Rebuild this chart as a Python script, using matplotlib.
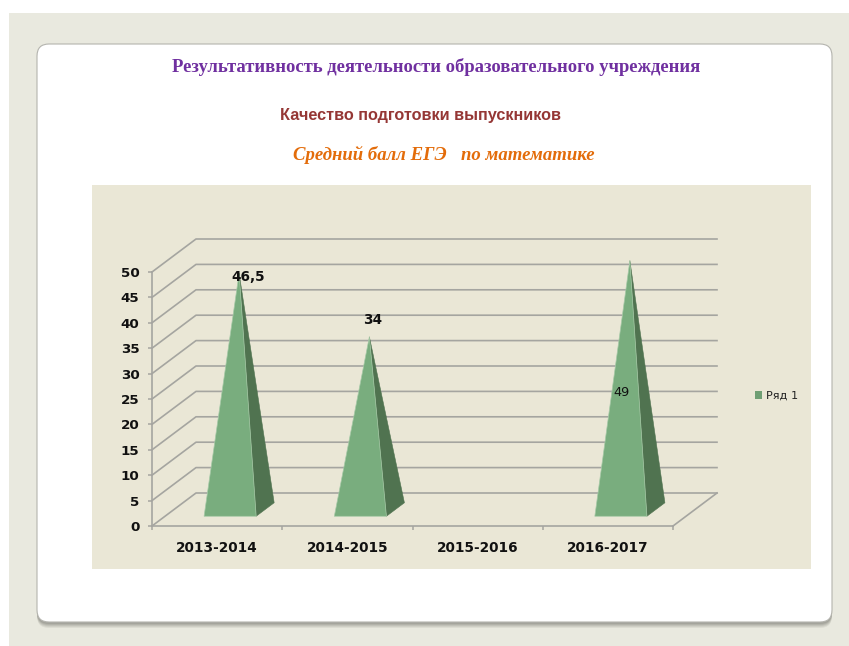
import matplotlib

matplotlib.use("Agg")
import matplotlib.pyplot as plt
from matplotlib.patches import FancyBboxPatch, Polygon, Rectangle

categories = ["2013-2014", "2014-2015", "2015-2016", "2016-2017"]
values = [46.5, 34, None, 49]
y_ticks = [0, 5, 10, 15, 20, 25, 30, 35, 40, 45, 50]
series_name = "Ряд 1"

W, H = 849, 646
GRID = "#a5a5a0"
FACE = "#79ad7e"
SIDE = "#507350"
INK = "#111111"

# plot box in pixels, front plane of the fake 3D chart
LEFT, RIGHT, BOTTOM, TOP = 152, 673, 526, 272
DEPTH_X = 44 / ((RIGHT - LEFT) / 4)
DEPTH_Y = 33 / ((BOTTOM - TOP) / 50)


def px(x, y):
    return x / W, 1 - y / H


def project(x, y, depth):
    return x + depth * DEPTH_X, y + depth * DEPTH_Y


fig = plt.figure(figsize=(W / 100, H / 100), dpi=100, facecolor="white")

# page, card and panel, drawn in pixel coordinates
bg = fig.add_axes([0, 0, 1, 1], zorder=-1)
bg.set_xlim(0, W)
bg.set_ylim(H, 0)
bg.axis("off")
bg.add_patch(Rectangle((9, 13), W - 9, H - 13, color="#e9e9df", lw=0))
# soft shadow under the card
for drop, colour in zip([6, 5, 4, 3, 2], ["#dcdcd2", "#cfcfc5", "#c1c1b8", "#b2b2a9", "#a4a49c"]):
    bg.add_patch(FancyBboxPatch((37 + 12, 44 + 12 + drop), 795 - 24, 578 - 24, boxstyle="round,pad=12",
                                lw=0, color=colour))
bg.add_patch(FancyBboxPatch((37 + 12, 44 + 12), 795 - 24, 578 - 24, boxstyle="round,pad=12",
                            fc="white", ec="#b4b4ae", lw=0.8))
bg.add_patch(Rectangle((92, 185), 719, 384, color="#eae7d6", lw=0))

ax = fig.add_axes([LEFT / W, 1 - BOTTOM / H, (RIGHT - LEFT) / W, (BOTTOM - TOP) / H])
ax.patch.set_visible(False)
ax.set_xlim(-0.5, len(categories) - 0.5)
ax.set_ylim(0, 50)
ax.spines[["top", "right"]].set_visible(False)
ax.spines[["left", "bottom"]].set_color(GRID)
ax.spines[["left", "bottom"]].set_linewidth(1.2)

ax.set_yticks(y_ticks)
ax.set_yticklabels([str(v) for v in y_ticks], fontsize=9.7, fontweight="bold", color=INK)
ax.set_xticks(range(len(categories)))
ax.set_xticklabels(categories, fontsize=9.8, fontweight="bold", color=INK)
ax.set_xticks([i - 0.5 for i in range(len(categories) + 1)], minor=True)
ax.tick_params(axis="x", which="major", length=0, pad=11)
ax.tick_params(axis="x", which="minor", length=3, color=GRID, width=1.1)
ax.tick_params(axis="y", length=3, color=GRID, width=1.1, pad=6)

# back wall and side wall
x0, x1 = ax.get_xlim()
for v in y_ticks:
    a = project(x0, v, 0)
    b = project(x0, v, 1)
    c = project(x1, v, 1)
    ax.plot([a[0], b[0], c[0]], [a[1], b[1], c[1]], color=GRID, lw=1.2, clip_on=False, zorder=1)
# floor edge on the right
a = project(x1, 0, 0)
b = project(x1, 0, 1)
ax.plot([a[0], b[0]], [a[1], b[1]], color=GRID, lw=1.2, clip_on=False, zorder=1)

# pyramids
half = 0.2
front, back, mid = 13 / 44, 31 / 44, 0.5
for i, value in enumerate(values):
    if value is None:
        continue
    apex = project(i, value, mid)
    ax.add_patch(Polygon([project(i + half, 0, front), project(i + half, 0, back), apex],
                         fc=SIDE, ec=SIDE, lw=0.4, clip_on=False, zorder=3))
    ax.add_patch(Polygon([project(i - half, 0, front), project(i + half, 0, front), apex],
                         fc=FACE, ec="#a5c9a6", lw=0.5, clip_on=False, zorder=4))

# data labels
fig.text(*px(248, 277), str(values[0]).replace(".", ","), fontsize=9.8, fontweight="bold", color=INK,
         ha="center", va="center", zorder=5)
fig.text(*px(373, 320), str(values[1]), fontsize=9.8, fontweight="bold", color=INK,
         ha="center", va="center", zorder=5)
fig.text(*px(621, 393), str(values[3]), fontsize=9.3, color=INK, ha="center", va="center", zorder=5)

# legend
handle = Rectangle((0, 0), 1, 1, fc="#6f9f74", lw=0)
fig.legend([handle], [series_name], loc="center left", bbox_to_anchor=px(745, 396), frameon=False,
           fontsize=8.1, handlelength=0.65, handleheight=0.65, handletextpad=0.3, labelcolor="#222222")

# headings
fig.text(*px(436, 67.5), "Результативность деятельности образовательного учреждения",
         family="Liberation Serif", fontsize=13.45, fontweight="bold", color="#7030a0", ha="center", va="center")
fig.text(*px(420, 115.5), "Качество подготовки выпускников",
         family="Liberation Sans", fontsize=11.7, fontweight="bold", color="#953735", ha="center", va="center")
fig.text(*px(444, 155), "Средний балл ЕГЭ   по математике",
         family="Liberation Serif", fontsize=13.5, fontweight="bold", style="italic", color="#e36c0a",
         ha="center", va="center")

fig.savefig("out.png", dpi=100, facecolor=fig.get_facecolor())
plt.close(fig)
